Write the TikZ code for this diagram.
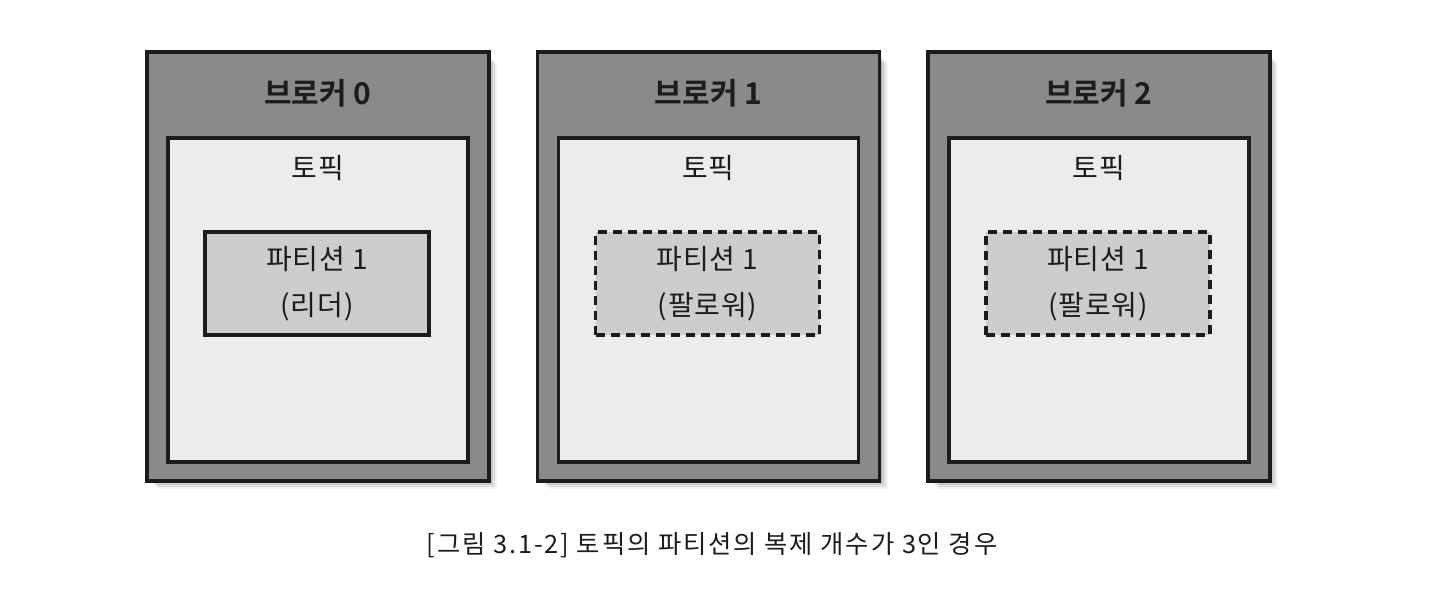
\documentclass[tikz,border=0pt]{standalone}
\usepackage{fontspec}
\setmainfont{Noto Sans CJK KR}[BoldFont={Noto Sans CJK KR Bold}]
\newfontfamily\capfont{Noto Sans CJK KR}[LetterSpace=7.5]
\newfontfamily\boxfont{Noto Sans CJK KR}[LetterSpace=3]
\definecolor{brokerfill}{RGB}{138,138,138}
\definecolor{topicfill}{RGB}{236,236,236}
\definecolor{partfill}{RGB}{205,205,205}
\definecolor{inkc}{RGB}{28,28,28}
\tikzset{
  brokerbox/.style={draw=inkc, line width=2.4pt, fill=brokerfill, minimum width=256.5pt, minimum height=321.75pt, inner sep=0pt, outer sep=0pt},
  topicbox/.style={draw=inkc, line width=2.4pt, fill=topicfill, minimum width=225pt, minimum height=243pt, inner sep=0pt, outer sep=0pt},
  partbox/.style={draw=inkc, line width=2.4pt, fill=partfill, minimum width=168pt, minimum height=77.25pt, inner sep=0pt, outer sep=0pt, align=center, text=inkc, font=\boxfont\fontsize{21}{34.5}\selectfont},
  followerbox/.style={partbox, dash pattern=on 6.75pt off 4.5pt},
  titletext/.style={text=inkc, font=\fontsize{22.5}{26}\selectfont\bfseries},
  topictext/.style={text=inkc, font=\boxfont\fontsize{21}{24}\selectfont},
  captext/.style={text=inkc, font=\capfont\fontsize{19}{22}\selectfont},
}
\begin{document}
\begin{tikzpicture}[x=0.75pt, y=-0.75pt]
\useasboundingbox[fill=white] (0,0) rectangle (1430,612);
\foreach \i/\t/\role/\sty in {0/0/리더/partbox, 1/1/팔로워/followerbox, 2/2/팔로워/followerbox}{
  \pgfmathsetmacro{\xo}{147+390.5*\i}
  % soft shadow
  \foreach \d/\op in {2/0.10,4/0.10,6/0.09,8/0.07,10/0.05}{
    \fill[black, opacity=\op] (\xo+\d+1,52+\d+1) rectangle (\xo+342+\d-2,481+\d-2);
  }
  \node[brokerbox] (broker\i) at (\xo+171,266.5) {};
  \node[titletext] (title\i) at (\xo+171,93) {브로커 \t};
  \node[topicbox] (topic\i) at (\xo+171,300) {};
  \node[topictext] (topiclabel\i) at (\xo+171,168) {토픽};
  \node[\sty] (part\i) at (\xo+170,283.5) {파티션 1\\(\role)};
}
\node[captext] (caption) at (712,545) {[그림 3.1-2] 토픽의 파티션의 복제 개수가 3인 경우};
\end{tikzpicture}
\end{document}
